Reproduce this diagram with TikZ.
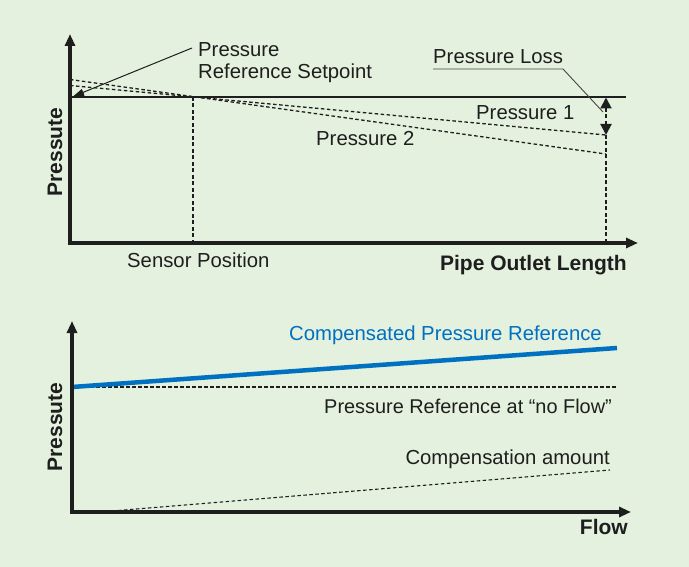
\documentclass[tikz,border=0pt]{standalone}
\usepackage{fontspec}
\setmainfont{Liberation Sans}
\usetikzlibrary{arrows.meta}
\definecolor{bgc}{RGB}{228,241,222}
\definecolor{bluec}{RGB}{0,112,192}
\definecolor{inkc}{RGB}{30,30,30}
\definecolor{leaderc}{RGB}{70,70,70}
\begin{document}
\begin{tikzpicture}[x=1pt,y=-1pt,
  axis/.style={line width=4.3pt,draw=inkc,-{Triangle[length=12pt,width=10pt]},shorten <=-2.15pt},
  lbl/.style={font=\fontsize{20.3}{23}\selectfont,text=inkc,inner sep=0pt},
  blbl/.style={font=\fontsize{21}{24}\selectfont\bfseries,text=inkc,inner sep=0pt},
  dashln/.style={draw=inkc,line width=1.3pt,dash pattern=on 3.5pt off 2.5pt},
  vdash/.style={draw=inkc,line width=2pt,dash pattern=on 4pt off 2.5pt},
  leader/.style={draw=leaderc,line width=0.9pt}]
\fill[bgc] (0,0) rectangle (689,567);
\useasboundingbox (0,0) rectangle (689,567);

% ---------- top chart ----------
\coordinate (o1) at (70,243);
\coordinate (ytop1) at (70,34);
\coordinate (xend1) at (638,243);
\coordinate (refL) at (70,97);
\coordinate (refR) at (626,97);
\coordinate (sens) at (193,97);
\coordinate (sensB) at (193,243);
\coordinate (p1a) at (70,85.5);
\coordinate (p1b) at (606,135);
\coordinate (p2a) at (70,79.5);
\coordinate (p2b) at (606,154);
\coordinate (lossT) at (606,97.5);
\coordinate (lossB) at (606,135);
\coordinate (outB) at (606,243);

\draw[inkc,line width=1.1pt] (refL) -- (refR);
\draw[dashln] (p1a) -- (p1b);
\draw[dashln] (p2a) -- (p2b);
\draw[vdash] (sens) -- (sensB);
\draw[vdash] (lossB) -- (outB);
\draw[vdash,{Triangle[length=11pt,width=11pt]}-{Triangle[length=11pt,width=11pt]}] (lossT) -- (lossB);
\draw[axis] (o1) -- (ytop1);
\draw[axis] (o1) -- (xend1);

\node[lbl,anchor=base west] (setp1) at (198,56.5) {Pressure};
\node[lbl,anchor=base west] (setp2) at (198,78.3) {Reference Setpoint};
\coordinate (setpS) at (192,48);
\draw[leader,draw=inkc,line width=1pt,-{Triangle[length=11pt,width=7pt]}] (setpS) -- (73,96.5);

\node[lbl,anchor=base west] (loss) at (433,64) {Pressure Loss};
\coordinate (lossU1) at (433,69);
\coordinate (lossU2) at (563,69);
\coordinate (lossE) at (603,112);
\draw[leader] (lossU1) -- (lossU2) -- (lossE);

\node[lbl,anchor=base west] (pr1) at (476,120) {Pressure 1};
\node[lbl,anchor=base west] (pr2) at (316,146) {Pressure 2};
\node[lbl,anchor=base west] (sp) at (127,267.5) {Sensor Position};
\node[blbl,anchor=base east] (pol) at (627,271) {Pipe Outlet Length};
\node[blbl,rotate=90] (yl1) at (55,152) {Pressute};

% ---------- bottom chart ----------
\coordinate (o2) at (72,512);
\coordinate (ytop2) at (72,321);
\coordinate (xend2) at (631,512);
\coordinate (cL) at (72,387);
\coordinate (cR) at (617,348);
\coordinate (nR) at (617,387);
\coordinate (mA) at (100,512);
\coordinate (mB) at (610,470);

\draw[dashln] (cL) -- (nR);
\draw[dashln,line width=1.1pt] (mA) -- (mB);
\draw[bluec,line width=4.5pt] (cL) -- (cR);
\draw[axis] (o2) -- (ytop2);
\draw[axis] (o2) -- (xend2);

\node[lbl,anchor=base east,text=bluec] (cpr) at (602,340) {Compensated Pressure Reference};
\node[lbl,anchor=base east,font=\fontsize{19.9}{23}\selectfont] (nf) at (612,413) {Pressure Reference at “no Flow”};
\node[lbl,anchor=base east] (ca) at (610,464) {Compensation amount};
\node[blbl,anchor=base east] (fl) at (628,534) {Flow};
\node[blbl,rotate=90] (yl2) at (55,427) {Pressute};
\end{tikzpicture}
\end{document}
